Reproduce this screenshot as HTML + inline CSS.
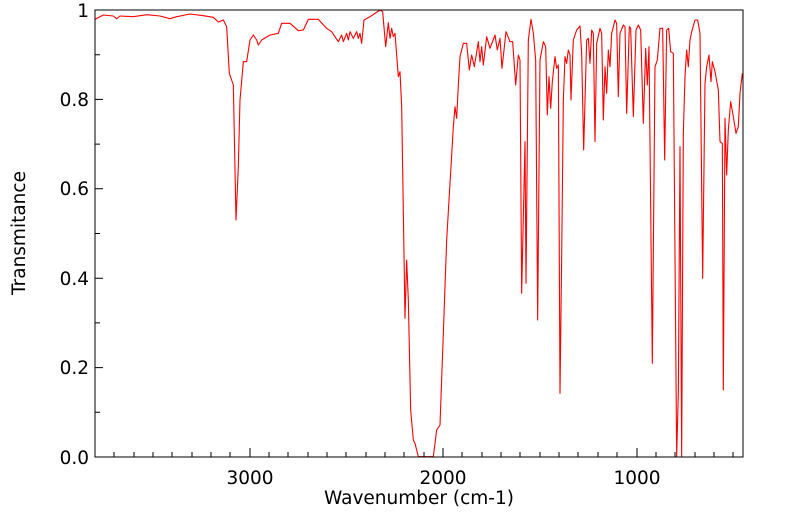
<!DOCTYPE html>
<html><head><meta charset="utf-8"><style>
html,body{margin:0;padding:0;background:#fff;}
svg{display:block;font-family:"DejaVu Sans","Liberation Sans",sans-serif;}
</style></head><body>
<svg width="799" height="516" viewBox="0 0 799 516" xmlns="http://www.w3.org/2000/svg">
<rect x="0" y="0" width="799" height="516" fill="#fff"/>
<g fill="none" stroke="#ff0000" stroke-width="1.1" stroke-linejoin="round">
<g transform="translate(90,0) scale(0.33333)">
<polyline vector-effect="non-scaling-stroke" points="15,58 40,45 70,48 80,56 90,48 130,50 170,44 210,48 240,56 260,50 300,42 340,47 370,52 385,66 400,60 410,80 418,220 430,255 438,660 445,500 450,300 460,185 470,185 480,120 490,105 500,120 505,135 515,120 540,105 565,100 575,70 600,70 625,92 640,90 655,58 685,58 710,85 725,95 735,110 745,125 755,105 760,125 770,100 775,120 780,95 790,115 800,95 805,115 810,100 815,130 822,60 840,50 870,30 878,35 887,140 895,68 900,115 905,85 910,110 915,100 925,230 930,215 935,320 945,955 950,780 955,900 962,1230 970,1320 975,1330 985,1370 990,1370"/>
</g>
<g transform="translate(420,0) scale(0.33333)">
<polyline vector-effect="non-scaling-stroke" points="0,1370 40,1370 50,1290 60,1275 70,1000 80,720 90,550 100,380 105,320 110,355 115,255 120,170 130,130 140,130 148,210 155,165 163,200 175,125 180,185 185,140 190,195 200,110 210,145 225,105 232,150 240,115 246,205 258,95 270,125 278,125 287,255 295,165 300,180 305,880 315,425 318,850 325,120 333,58 340,100 347,180 353,960 360,180 370,125 377,140 382,345 387,230 392,325 397,245 405,170 410,205 415,195 420,1180 425,770 430,300 435,170 440,190 445,150 450,165 453,300 460,120 470,90 480,78 485,160 491,450 500,120 505,115 510,190 515,90 520,100 525,425 530,130 540,85 545,100 550,360 555,200 560,280 565,150 570,200 575,100 585,60 590,70 595,290 600,100 610,75 615,80 620,340 628,80 632,85 640,350 648,90 655,75 662,90 670,370 677,145 682,255 687,140 697,1090 705,200 712,180 720,85 728,85 734,480 740,90 746,85 752,155 760,160 770,1370 775,1180 780,440 785,1370 790,400 795,230 800,150 805,200 810,120 815,95 825,60 833,60 840,100 848,835 855,250 860,200 867,165 873,245 877,185 885,215 895,270 900,425 907,430 910,1170 915,355 920,525 925,390 932,305 940,350 948,400 955,380 960,280 967,220"/>
</g>
</g>
<rect x="95" y="10" width="648" height="447" fill="none" stroke="#000" stroke-width="1"/>
<g stroke="#000" stroke-width="1">
<path d="M95,54.7h5M95,99.4h8M95,144.1h5M95,188.8h8M95,233.5h5M95,278.2h8M95,322.9h5M95,367.6h8M95,412.3h5"/>
<path d="M114,457v-5M134,457v-5M153,457v-5M172,457v-5M192,457v-5M211,457v-5M230,457v-5M250,457v-9M269,457v-5M288,457v-5M308,457v-5M327,457v-5M346,457v-5M366,457v-5M385,457v-5M404,457v-5M424,457v-5M443,457v-9M462,457v-5M482,457v-5M501,457v-5M520,457v-5M540,457v-5M559,457v-5M578,457v-5M598,457v-5M617,457v-5M637,457v-9M656,457v-5M675,457v-5M695,457v-5M714,457v-5M733,457v-5"/>
</g>
<g font-size="18.5" fill="#000" text-anchor="end">
<text x="89" y="17">1</text>
<text x="89" y="106">0.8</text>
<text x="89" y="195">0.6</text>
<text x="89" y="285">0.4</text>
<text x="89" y="374">0.2</text>
<text x="89" y="464">0.0</text>
</g>
<g font-size="18.5" fill="#000" text-anchor="middle">
<text x="250" y="484">3000</text>
<text x="443" y="484">2000</text>
<text x="637" y="484">1000</text>
<text x="419" y="504">Wavenumber (cm-1)</text>
<text transform="translate(25,233) rotate(-90)">Transmitance</text>
</g>
</svg>
</body></html>
